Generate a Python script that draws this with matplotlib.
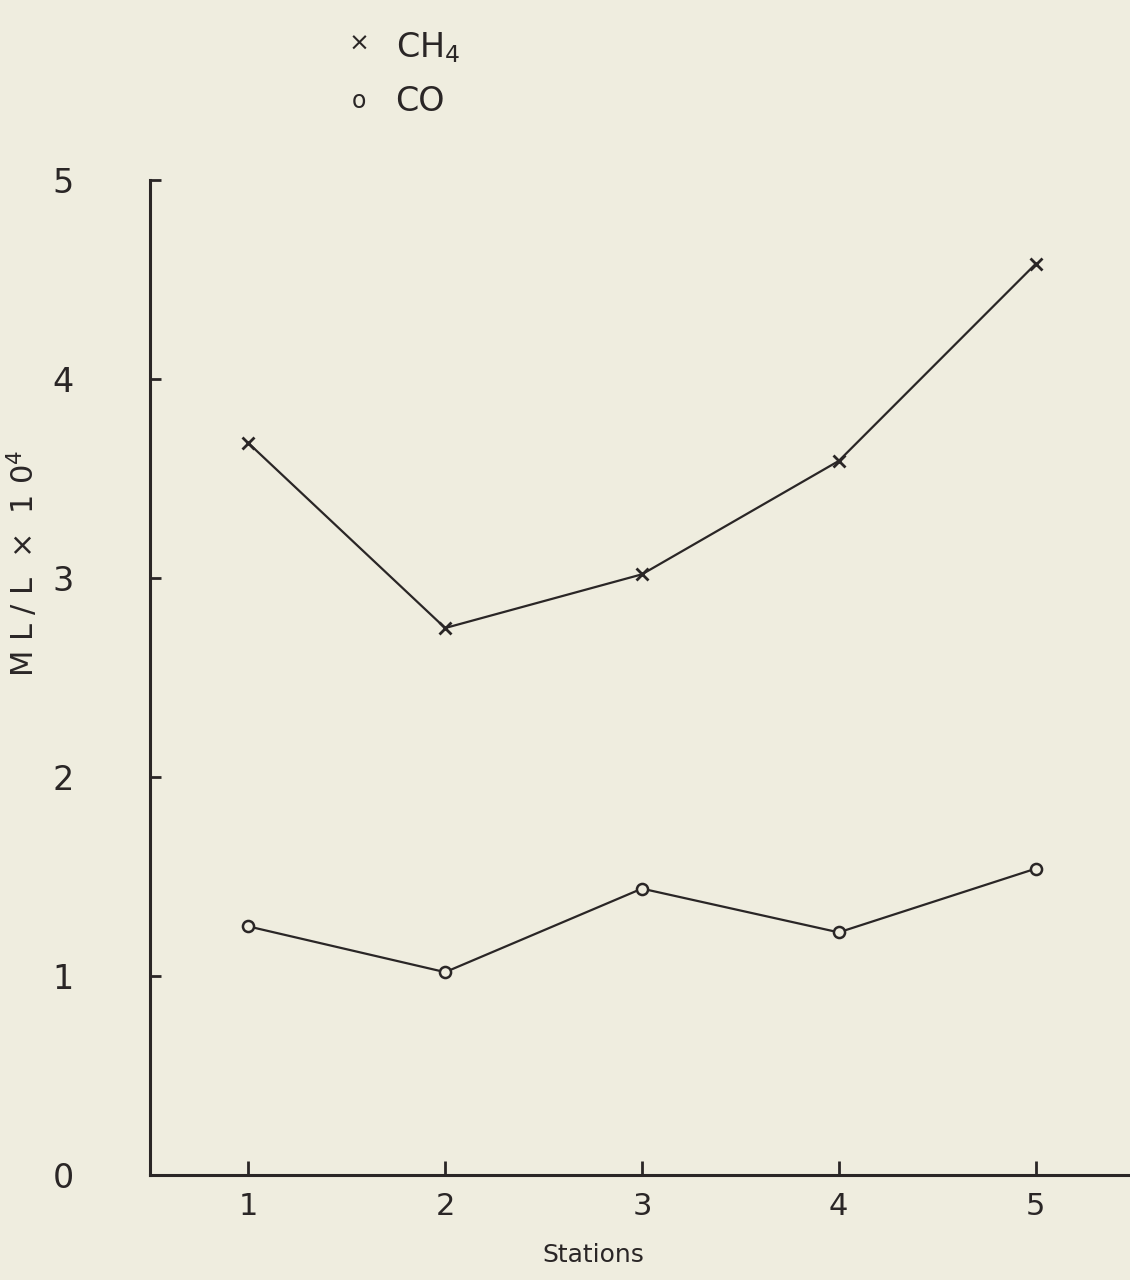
import numpy as np
import matplotlib.pyplot as plt

stations = [1, 2, 3, 4, 5]
ch4 = [3.68, 2.75, 3.02, 3.59, 4.58]
co = [1.25, 1.02, 1.44, 1.22, 1.54]
y_ticks = [0, 1, 2, 3, 4, 5]

BG = '#efeddf'
INK = '#2a2626'

plt.rcParams['font.family'] = ['DejaVu Sans']

fig = plt.figure(figsize=(11.3, 12.8), dpi=100, facecolor=BG)
ax = fig.add_axes([0.1327, 0.082, 0.8673, 0.777])
ax.set_facecolor(BG)

ax.plot(stations, ch4, color=INK, lw=1.6, marker='x', ms=8, mew=2)
ax.plot(stations, co, color=INK, lw=1.6, marker='o', ms=8, mfc=BG, mew=1.8)

ax.set_xlim(0.5, 5.48)
ax.set_ylim(0, 5)
ax.spines['top'].set_visible(False)
ax.spines['right'].set_visible(False)
for s in ['left', 'bottom']:
    ax.spines[s].set_linewidth(2.2)
    ax.spines[s].set_color(INK)

ax.set_xticks(stations)
ax.set_yticks(y_ticks)
ax.tick_params(axis='y', direction='in', length=8, width=2, color=INK,
               labelsize=24, pad=55, labelcolor=INK)
ax.tick_params(axis='x', direction='in', length=10, width=2, color=INK,
               labelsize=22, pad=12, labelcolor=INK)

ax.set_xlabel('Stations', fontsize=18, color=INK)
ax.xaxis.set_label_coords(0.452, -0.068)
ax.set_ylabel(r'M L / L  $\times$  1 0$^4$', fontsize=22, color=INK)
ax.yaxis.set_label_coords(-0.112, 0.615)

fig.text(0.318, 0.966, '×', fontsize=18, color=INK, ha='center', va='center')
fig.text(0.350, 0.963, r'CH$_4$', fontsize=24, color=INK, ha='left', va='center')
fig.text(0.318, 0.921, 'o', fontsize=17, color=INK, ha='center', va='center')
fig.text(0.350, 0.921, 'CO', fontsize=24, color=INK, ha='left', va='center')

fig.savefig('out.png', dpi=100, facecolor=BG)
